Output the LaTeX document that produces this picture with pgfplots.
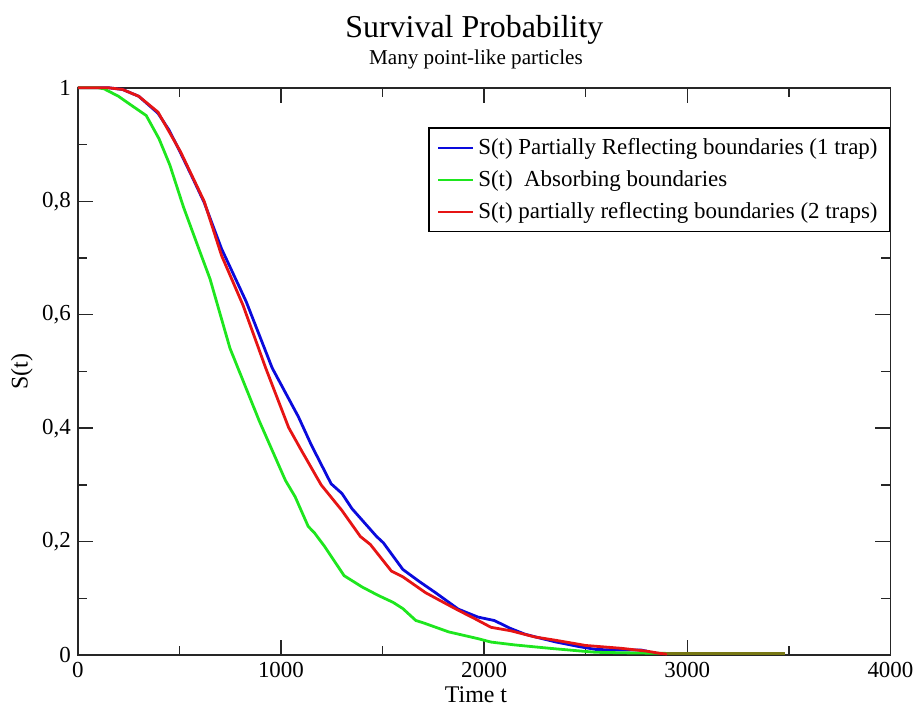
\documentclass[border=0pt]{standalone}
\usepackage{fontspec}
\setmainfont{Liberation Serif}
\usepackage{pgfplots}
\pgfplotsset{compat=1.18}
\definecolor{cblue}{RGB}{10,10,220}
\definecolor{cgreen}{RGB}{30,230,30}
\definecolor{cred}{RGB}{230,20,20}
\definecolor{colive}{RGB}{120,120,20}
\begin{document}
\begin{tikzpicture}
\begin{axis}[
  scale only axis, width=407.5pt, height=284.5pt,
  xmin=0, xmax=4000, ymin=0, ymax=1,
  xtick={0,1000,2000,3000,4000},
  ytick={0,0.2,0.4,0.6,0.8,1},
  minor x tick num=1, minor y tick num=1,
  tick align=inside,
  major tick length=7.5pt, minor tick length=4.5pt,
  axis line style={line width=0.9pt, black!85},
  every tick/.style={black!85, line width=0.7pt},
  /pgf/number format/assume math mode=true,
  xticklabel style={/pgf/number format/1000 sep={}, font=\fontsize{11.5}{13}\selectfont},
  yticklabel style={/pgf/number format/.cd, use comma, fixed, precision=1, /tikz/.cd, font=\fontsize{11.5}{13}\selectfont},
  xlabel={Time t},
  ylabel={S(t)},
  every axis x label/.style={at={(axis description cs:0.49,-0.0844)}, anchor=base, font=\fontsize{12}{14}\selectfont},
  every axis y label/.style={at={(axis description cs:-0.0687,0.5)}, rotate=90, anchor=center, font=\fontsize{12}{14}\selectfont},
  clip=false,
  legend style={at={(rel axis cs:1,0.930)}, anchor=north east, draw=black, line width=0.9pt,
    font=\fontsize{11.5}{13}\selectfont, row sep=2.5pt, inner xsep=4pt, inner ysep=3pt, cells={anchor=west}},
  legend image code/.code={\draw[#1, line width=1.3pt] (0pt,0pt) -- (17.5pt,0pt);},
]
\addplot[cblue, line width=1.4pt] coordinates {
(0,1) (150,1) (220,0.997) (300,0.985) (395,0.955) (450,0.925) (506,0.885) (560,0.845)
(622,0.798) (708,0.716) (829,0.623) (957,0.506) (1086,0.42) (1150,0.37) (1247,0.302)
(1300,0.285) (1350,0.258) (1471,0.209) (1504,0.198) (1600,0.151) (1680,0.13) (1761,0.110)
(1873,0.081) (1970,0.067) (2050,0.061) (2130,0.047) (2200,0.037) (2275,0.030) (2355,0.023)
(2467,0.015) (2550,0.010) (2650,0.009) (2771,0.009) (2800,0.007)
};
\addlegendentry{S(t) Partially Reflecting boundaries (1 trap)}
\addplot[cgreen, line width=1.4pt] coordinates {
(0,1) (100,1) (130,0.998) (200,0.985) (260,0.97) (337,0.951) (400,0.91) (453,0.864)
(520,0.79) (596,0.716) (651,0.663) (749,0.541) (893,0.413) (1022,0.308) (1070,0.279)
(1134,0.227) (1166,0.215) (1214,0.192) (1311,0.140) (1400,0.12) (1480,0.105) (1552,0.093)
(1600,0.082) (1664,0.061) (1700,0.057) (1825,0.041) (1970,0.029) (2034,0.023) (2150,0.018)
(2323,0.012) (2450,0.008) (2548,0.005) (2700,0.004) (2900,0.003)
};
\addlegendentry{S(t)~ Absorbing boundaries}
\addplot[cred, line width=1.4pt] coordinates {
(0,1) (150,1) (220,0.997) (300,0.985) (395,0.957) (506,0.887) (622,0.800) (708,0.704)
(813,0.617) (925,0.506) (1038,0.401) (1102,0.360) (1198,0.300) (1300,0.255) (1391,0.209)
(1440,0.195) (1544,0.148) (1600,0.138) (1712,0.110) (1800,0.093) (1873,0.079) (1950,0.065)
(2034,0.049) (2130,0.043) (2250,0.032) (2355,0.026) (2500,0.017) (2675,0.012) (2800,0.007)
(2868,0.003) (2900,0.002)
};
\addlegendentry{S(t) partially reflecting boundaries (2 traps)}
\addplot[colive, line width=1.5pt, forget plot] coordinates {
(2900,0.003) (3200,0.003) (3480,0.003)
};
\node[anchor=base, font=\fontsize{16}{19}\selectfont] at ([yshift=25pt]rel axis cs:0.488,1) {Survival Probability};
\node[anchor=base, font=\fontsize{10.6}{13}\selectfont] at ([yshift=11.5pt]rel axis cs:0.49,1) {Many point-like particles};
\end{axis}
\path ([shift={(-39pt,-27.5pt)}]current axis.south west) rectangle ([shift={(13.5pt,44pt)}]current axis.north east);
\end{tikzpicture}
\end{document}
